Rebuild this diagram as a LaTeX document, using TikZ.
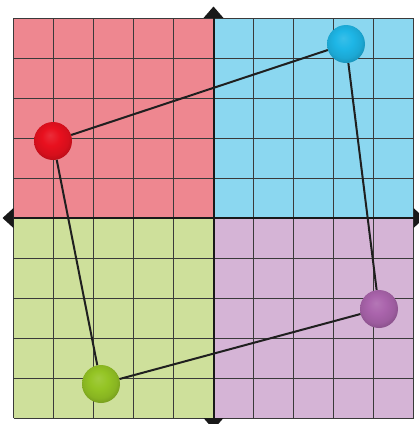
\documentclass[tikz,border=0pt]{standalone}
\definecolor{qred}{HTML}{EE8790}
\definecolor{qblue}{HTML}{8BD7F0}
\definecolor{qgreen}{HTML}{CEE09B}
\definecolor{qpurple}{HTML}{D5B4D6}
\definecolor{bred}{HTML}{E8101E}
\definecolor{bblue}{HTML}{1EB6E6}
\definecolor{bgreen}{HTML}{94C424}
\definecolor{bpurple}{HTML}{AA64AC}
\definecolor{gridc}{HTML}{3A3A3A}
\colorlet{ballc}{red}
\pgfdeclareradialshading[ballc]{softball}{\pgfpoint{-4bp}{8bp}}{%
  color(0bp)=(ballc!88!white); color(12bp)=(ballc); color(22bp)=(ballc!92!black); color(28bp)=(ballc!80!black); color(40bp)=(ballc!75!black)}
\tikzset{
  gridline/.style={draw=gridc, line width=0.9pt},
  axisline/.style={draw=black!90, line width=2pt},
  axistip/.style={fill=black!90},
  ballcol/.code={\colorlet{ballc}{#1}},
  sphere/.style={circle, minimum size=38pt, inner sep=0pt, ballcol=#1, shading=softball},
  link/.style={draw=black!88, line width=2pt}
}
\begin{document}
\begin{tikzpicture}[x=1pt,y=-1pt]
\useasboundingbox (0,0) rectangle (419,424);
\fill[white] (0,0) rectangle (419,424);
\fill[qred] (13.5,18) rectangle (213.5,218);
\fill[qblue] (213.5,18) rectangle (413.5,218);
\fill[qgreen] (13.5,218) rectangle (213.5,418);
\fill[qpurple] (213.5,218) rectangle (413.5,418);
\foreach \i in {0,...,10} {
  \draw[gridline] (13.5+40*\i,18) -- (13.5+40*\i,418);
  \draw[gridline] (13.5,18+40*\i) -- (413.5,18+40*\i);
}
\draw[axisline] (13.5,218) -- (413.5,218);
\draw[axisline] (213.5,18) -- (213.5,418);
\fill[axistip] (213.5,6.5) -- (203.5,18) -- (223.5,18) -- cycle;
\fill[axistip] (213.5,429.5) -- (203.5,418) -- (223.5,418) -- cycle;
\fill[axistip] (2.5,218) -- (13.5,208) -- (13.5,228) -- cycle;
\fill[axistip] (424.5,218) -- (413.5,208) -- (413.5,228) -- cycle;
\node[sphere=bred] (r) at (53,141) {};
\node[sphere=bblue] (b) at (346,44) {};
\node[sphere=bpurple] (p) at (379,309) {};
\node[sphere=bgreen] (g) at (101,384) {};
\draw[link] (r) -- (b);
\draw[link] (b) -- (p);
\draw[link] (p) -- (g);
\draw[link] (g) -- (r);
\end{tikzpicture}
\end{document}
